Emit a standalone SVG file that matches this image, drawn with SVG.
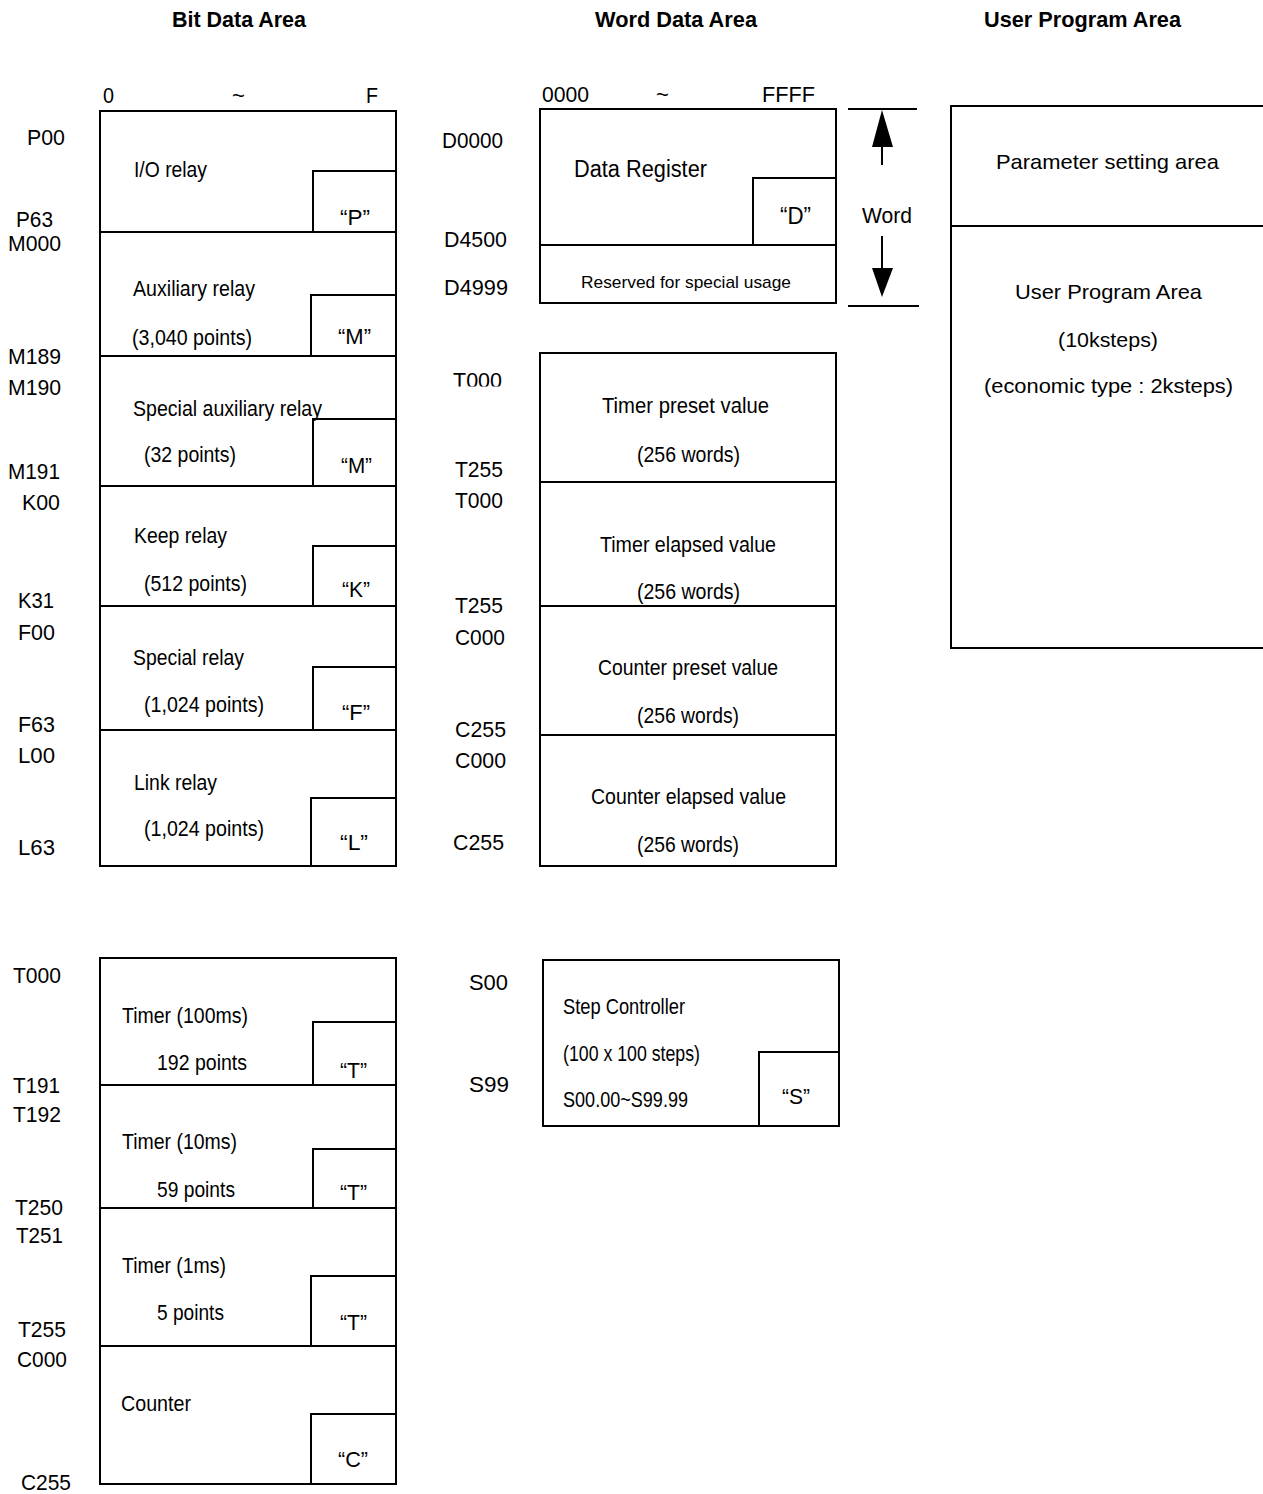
<svg xmlns="http://www.w3.org/2000/svg" width="1263" height="1494" viewBox="0 0 1263 1494">
<style>
.b{fill:none;stroke:#000;stroke-width:2}
.ln{stroke:#000;stroke-width:2;fill:none}
text{font-family:"Liberation Sans",Arial,sans-serif;font-size:22px;fill:#000}
.h{font-weight:bold;font-size:22px}
.s{font-size:17px}
.d{font-size:23px}
.u{font-size:21px}
</style>
<defs>
<clipPath id="clipT"><rect x="440" y="360" width="80" height="26.5"/></clipPath>
</defs>
<rect width="1263" height="1494" fill="#fff"/>

<g id="headers">
<text class="h" x="172" y="27" textLength="134" lengthAdjust="spacingAndGlyphs">Bit Data Area</text>
<text class="h" x="595" y="27" textLength="162" lengthAdjust="spacingAndGlyphs">Word Data Area</text>
<text class="h" x="984" y="27" textLength="197" lengthAdjust="spacingAndGlyphs">User Program Area</text>
</g>

<g id="axis-bit">
<text x="103" y="103" textLength="11" lengthAdjust="spacingAndGlyphs">0</text>
<text x="232" y="103">~</text>
<text x="366" y="103" textLength="12" lengthAdjust="spacingAndGlyphs">F</text>
</g>
<g id="axis-word">
<text x="542" y="102" textLength="47" lengthAdjust="spacingAndGlyphs">0000</text>
<text x="656" y="102">~</text>
<text x="762" y="102" textLength="53" lengthAdjust="spacingAndGlyphs">FFFF</text>
</g>

<g id="bit-labels">
<text x="27" y="145" textLength="38" lengthAdjust="spacingAndGlyphs">P00</text>
<text x="16" y="227" textLength="37" lengthAdjust="spacingAndGlyphs">P63</text>
<text x="8" y="251" textLength="53" lengthAdjust="spacingAndGlyphs">M000</text>
<text x="8" y="364" textLength="53" lengthAdjust="spacingAndGlyphs">M189</text>
<text x="8" y="395" textLength="53" lengthAdjust="spacingAndGlyphs">M190</text>
<text x="8" y="479" textLength="52" lengthAdjust="spacingAndGlyphs">M191</text>
<text x="22" y="510" textLength="38" lengthAdjust="spacingAndGlyphs">K00</text>
<text x="18" y="608" textLength="36" lengthAdjust="spacingAndGlyphs">K31</text>
<text x="18" y="640" textLength="37" lengthAdjust="spacingAndGlyphs">F00</text>
<text x="18" y="732" textLength="37" lengthAdjust="spacingAndGlyphs">F63</text>
<text x="18" y="763" textLength="37" lengthAdjust="spacingAndGlyphs">L00</text>
<text x="18" y="855" textLength="37" lengthAdjust="spacingAndGlyphs">L63</text>
</g>

<g id="io-relay">
<rect class="b" x="100" y="111" width="296" height="121"/>
<rect class="b" x="313" y="171" width="83" height="61"/>
<text x="134" y="177" textLength="73" lengthAdjust="spacingAndGlyphs">I/O relay</text>
<text x="340" y="225" textLength="30" lengthAdjust="spacingAndGlyphs">“P”</text>
</g>
<g id="aux-relay">
<rect class="b" x="100" y="232" width="296" height="124"/>
<rect class="b" x="311" y="295" width="85" height="61"/>
<text x="133" y="296" textLength="122" lengthAdjust="spacingAndGlyphs">Auxiliary relay</text>
<text x="132" y="345" textLength="120" lengthAdjust="spacingAndGlyphs">(3,040 points)</text>
<text x="338" y="344" textLength="33" lengthAdjust="spacingAndGlyphs">“M”</text>
</g>
<g id="special-aux-relay">
<rect class="b" x="100" y="356" width="296" height="130"/>
<rect class="b" x="313" y="419" width="83" height="67"/>
<text x="133" y="416" textLength="189" lengthAdjust="spacingAndGlyphs">Special auxiliary relay</text>
<text x="144" y="462" textLength="92" lengthAdjust="spacingAndGlyphs">(32 points)</text>
<text x="341" y="473" textLength="31" lengthAdjust="spacingAndGlyphs">“M”</text>
</g>
<g id="keep-relay">
<rect class="b" x="100" y="486" width="296" height="120"/>
<rect class="b" x="313" y="546" width="83" height="60"/>
<text x="134" y="543" textLength="93" lengthAdjust="spacingAndGlyphs">Keep relay</text>
<text x="144" y="591" textLength="103" lengthAdjust="spacingAndGlyphs">(512 points)</text>
<text x="342" y="597" textLength="28" lengthAdjust="spacingAndGlyphs">“K”</text>
</g>
<g id="special-relay">
<rect class="b" x="100" y="606" width="296" height="124"/>
<rect class="b" x="313" y="667" width="83" height="63"/>
<text x="133" y="665" textLength="111" lengthAdjust="spacingAndGlyphs">Special relay</text>
<text x="144" y="712" textLength="120" lengthAdjust="spacingAndGlyphs">(1,024 points)</text>
<text x="342" y="720" textLength="28" lengthAdjust="spacingAndGlyphs">“F”</text>
</g>
<g id="link-relay">
<rect class="b" x="100" y="730" width="296" height="136"/>
<rect class="b" x="311" y="798" width="85" height="68"/>
<text x="134" y="790" textLength="83" lengthAdjust="spacingAndGlyphs">Link relay</text>
<text x="144" y="836" textLength="120" lengthAdjust="spacingAndGlyphs">(1,024 points)</text>
<text x="340" y="850" textLength="28" lengthAdjust="spacingAndGlyphs">“L”</text>
</g>

<g id="word-labels">
<text x="442" y="148" textLength="61" lengthAdjust="spacingAndGlyphs">D0000</text>
<text x="444" y="247" textLength="63" lengthAdjust="spacingAndGlyphs">D4500</text>
<text x="444" y="295" textLength="64" lengthAdjust="spacingAndGlyphs">D4999</text>
<text x="453" y="388" clip-path="url(#clipT)" textLength="49" lengthAdjust="spacingAndGlyphs">T000</text>
<text x="455" y="477" textLength="48" lengthAdjust="spacingAndGlyphs">T255</text>
<text x="455" y="508" textLength="48" lengthAdjust="spacingAndGlyphs">T000</text>
<text x="455" y="613" textLength="48" lengthAdjust="spacingAndGlyphs">T255</text>
<text x="455" y="645" textLength="50" lengthAdjust="spacingAndGlyphs">C000</text>
<text x="455" y="737" textLength="51" lengthAdjust="spacingAndGlyphs">C255</text>
<text x="455" y="768" textLength="51" lengthAdjust="spacingAndGlyphs">C000</text>
<text x="453" y="850" textLength="51" lengthAdjust="spacingAndGlyphs">C255</text>
</g>

<g id="data-register">
<rect class="b" x="540" y="109" width="296" height="136"/>
<rect class="b" x="753" y="178" width="83" height="67"/>
<text class="d" x="574" y="177" textLength="133" lengthAdjust="spacingAndGlyphs">Data Register</text>
<text class="d" x="780" y="224" textLength="31" lengthAdjust="spacingAndGlyphs">“D”</text>
</g>
<g id="reserved">
<rect class="b" x="540" y="245" width="296" height="58"/>
<text class="s" x="581" y="288" textLength="210" lengthAdjust="spacingAndGlyphs">Reserved for special usage</text>
</g>
<g id="word-dimension">
<text x="862" y="223" textLength="50" lengthAdjust="spacingAndGlyphs">Word</text>
</g>

<g id="timer-preset">
<rect class="b" x="540" y="353" width="296" height="129"/>
<text x="602" y="413" textLength="167" lengthAdjust="spacingAndGlyphs">Timer preset value</text>
<text x="637" y="462" textLength="103" lengthAdjust="spacingAndGlyphs">(256 words)</text>
</g>
<g id="timer-elapsed">
<rect class="b" x="540" y="482" width="296" height="124"/>
<text x="600" y="552" textLength="176" lengthAdjust="spacingAndGlyphs">Timer elapsed value</text>
<text x="637" y="599" textLength="103" lengthAdjust="spacingAndGlyphs">(256 words)</text>
</g>
<g id="counter-preset">
<rect class="b" x="540" y="606" width="296" height="129"/>
<text x="598" y="675" textLength="180" lengthAdjust="spacingAndGlyphs">Counter preset value</text>
<text x="637" y="723" textLength="102" lengthAdjust="spacingAndGlyphs">(256 words)</text>
</g>
<g id="counter-elapsed">
<rect class="b" x="540" y="735" width="296" height="131"/>
<text x="591" y="804" textLength="195" lengthAdjust="spacingAndGlyphs">Counter elapsed value</text>
<text x="637" y="852" textLength="102" lengthAdjust="spacingAndGlyphs">(256 words)</text>
</g>

<g id="parameter-area">
<rect class="b" x="951" y="106" width="330" height="120"/>
<text class="u" x="996" y="169" textLength="223" lengthAdjust="spacingAndGlyphs">Parameter setting area</text>
</g>
<g id="user-program">
<rect class="b" x="951" y="226" width="330" height="422"/>
<text class="u" x="1015" y="299" textLength="187" lengthAdjust="spacingAndGlyphs">User Program Area</text>
<text class="u" x="1058" y="347" textLength="100" lengthAdjust="spacingAndGlyphs">(10ksteps)</text>
<text class="u" x="984" y="393" textLength="249" lengthAdjust="spacingAndGlyphs">(economic type : 2ksteps)</text>
</g>

<g id="timer-labels">
<text x="13" y="983" textLength="48" lengthAdjust="spacingAndGlyphs">T000</text>
<text x="13" y="1093" textLength="47" lengthAdjust="spacingAndGlyphs">T191</text>
<text x="13" y="1122" textLength="48" lengthAdjust="spacingAndGlyphs">T192</text>
<text x="15" y="1215" textLength="48" lengthAdjust="spacingAndGlyphs">T250</text>
<text x="16" y="1243" textLength="47" lengthAdjust="spacingAndGlyphs">T251</text>
<text x="18" y="1337" textLength="48" lengthAdjust="spacingAndGlyphs">T255</text>
<text x="17" y="1367" textLength="50" lengthAdjust="spacingAndGlyphs">C000</text>
<text x="21" y="1490" textLength="50" lengthAdjust="spacingAndGlyphs">C255</text>
</g>
<g id="timer-100ms">
<rect class="b" x="100" y="958" width="296" height="127"/>
<rect class="b" x="313" y="1022" width="83" height="63"/>
<text x="122" y="1023" textLength="126" lengthAdjust="spacingAndGlyphs">Timer (100ms)</text>
<text x="157" y="1070" textLength="90" lengthAdjust="spacingAndGlyphs">192 points</text>
<text x="340" y="1078" textLength="27" lengthAdjust="spacingAndGlyphs">“T”</text>
</g>
<g id="timer-10ms">
<rect class="b" x="100" y="1085" width="296" height="123"/>
<rect class="b" x="313" y="1149" width="83" height="59"/>
<text x="122" y="1149" textLength="115" lengthAdjust="spacingAndGlyphs">Timer (10ms)</text>
<text x="157" y="1197" textLength="78" lengthAdjust="spacingAndGlyphs">59 points</text>
<text x="340" y="1200" textLength="27" lengthAdjust="spacingAndGlyphs">“T”</text>
</g>
<g id="timer-1ms">
<rect class="b" x="100" y="1208" width="296" height="138"/>
<rect class="b" x="311" y="1276" width="85" height="70"/>
<text x="122" y="1273" textLength="104" lengthAdjust="spacingAndGlyphs">Timer (1ms)</text>
<text x="157" y="1320" textLength="67" lengthAdjust="spacingAndGlyphs">5 points</text>
<text x="340" y="1330" textLength="27" lengthAdjust="spacingAndGlyphs">“T”</text>
</g>
<g id="counter">
<rect class="b" x="100" y="1346" width="296" height="138"/>
<rect class="b" x="311" y="1414" width="85" height="70"/>
<text x="121" y="1411" textLength="70" lengthAdjust="spacingAndGlyphs">Counter</text>
<text x="338" y="1467" textLength="30" lengthAdjust="spacingAndGlyphs">“C”</text>
</g>

<g id="step-labels">
<text x="469" y="990" textLength="39" lengthAdjust="spacingAndGlyphs">S00</text>
<text x="469" y="1092" textLength="40" lengthAdjust="spacingAndGlyphs">S99</text>
</g>
<g id="step-controller">
<rect class="b" x="543" y="960" width="296" height="166"/>
<rect class="b" x="759" y="1052" width="80" height="74"/>
<text x="563" y="1014" font-size="21" textLength="122" lengthAdjust="spacingAndGlyphs">Step Controller</text>
<text x="563" y="1061" font-size="21" textLength="137" lengthAdjust="spacingAndGlyphs">(100 x 100 steps)</text>
<text x="563" y="1107" font-size="20" textLength="125" lengthAdjust="spacingAndGlyphs">S00.00~S99.99</text>
<text x="782" y="1104" textLength="28" lengthAdjust="spacingAndGlyphs">“S”</text>
</g>

<g id="connectors">
<line class="ln" x1="848" y1="109" x2="917" y2="109"/>
<line class="ln" x1="848" y1="306" x2="919" y2="306"/>
<line class="ln" x1="882" y1="145" x2="882" y2="165"/>
<polygon points="882,110 872,147 893,147" fill="#000"/>
<line class="ln" x1="882" y1="236" x2="882" y2="270"/>
<polygon points="872,268 893,268 882,297" fill="#000"/>
</g>
</svg>
